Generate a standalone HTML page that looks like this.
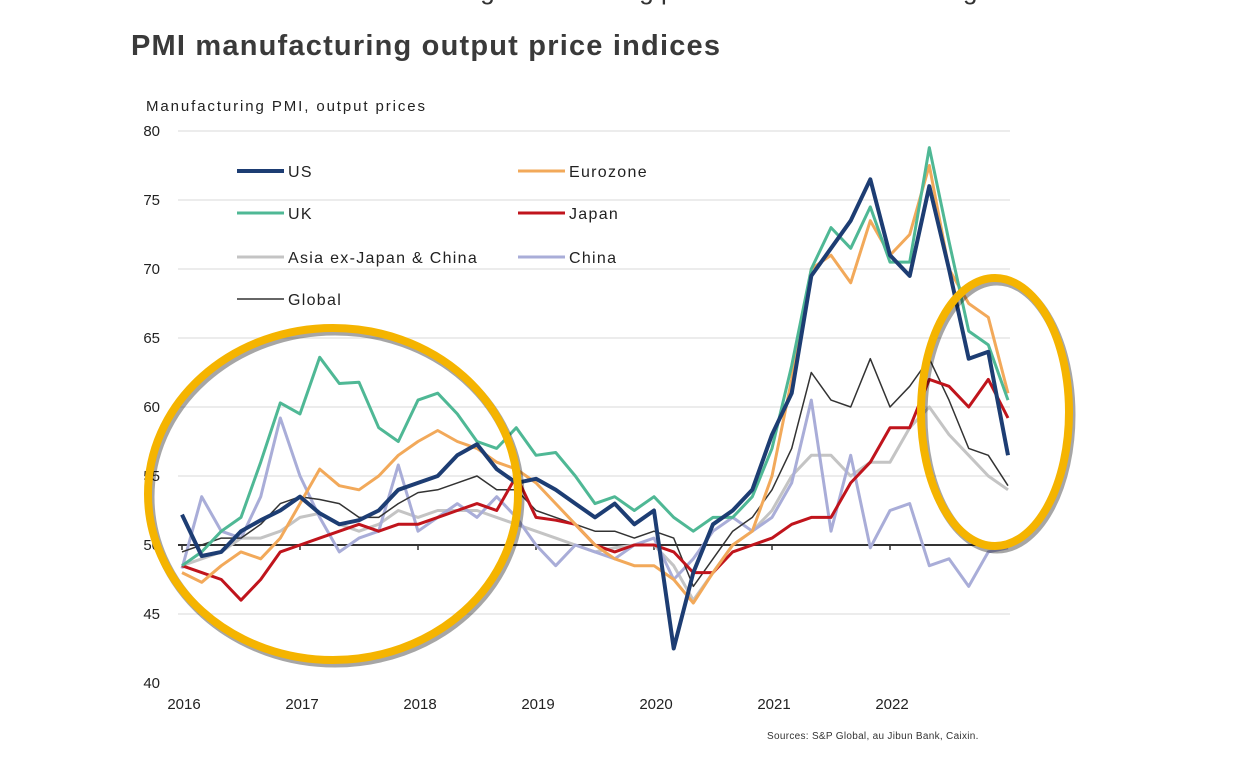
<!DOCTYPE html>
<html><head><meta charset="utf-8"><style>
body{margin:0;width:1234px;height:772px;background:#fff;overflow:hidden;font-family:"Liberation Sans",sans-serif;position:relative}
#top{position:absolute;left:330px;top:-25px;width:900px;overflow:hidden;font-size:26px;color:#333;white-space:nowrap}
#title{position:absolute;left:131px;top:30px;font-size:29px;font-weight:bold;color:#3a3a3a;letter-spacing:1.2px}
svg{position:absolute;left:0;top:0}
</style></head><body>
<div id="top">manufacturing sector selling price inflation is moderating across the world</div>
<div id="title">PMI manufacturing output price indices</div>
<svg id="c" width="1234" height="772"></svg>
<script>
const yTicks=[40,45,50,55,60,65,70,75,80];
const xTickLabels=['2016','2017','2018','2019','2020','2021','2022'];
const xTickYears=[2016,2017,2018,2019,2020,2021,2022];
const seriesNames=['Asia ex-Japan & China','China','Global','Japan','Eurozone','UK','US'];
const us=[52.2,49.2,49.5,51,51.8,52.5,53.5,52.3,51.5,51.8,52.5,54,54.5,55,56.5,57.3,55.5,54.5,54.8,54,53,52,53,51.5,52.5,42.5,48,51.5,52.5,54,58,61,69.5,71.5,73.5,76.5,71,69.5,76,70,63.5,64,56.5];
const eurozone=[48,47.3,48.5,49.5,49,50.5,53,55.5,54.3,54,55,56.5,57.5,58.3,57.5,57,56,55.5,54.5,53,51.5,50,49,48.5,48.5,47.5,45.8,48,50,51,55,62,70,71,69,73.5,71,72.5,77.5,70,67.5,66.5,61];
const uk=[48.5,49.5,51,52,56,60.3,59.5,63.6,61.7,61.8,58.5,57.5,60.5,61,59.5,57.5,57,58.5,56.5,56.7,55,53,53.5,52.5,53.5,52,51,52,52,53.5,57,63,70,73,71.5,74.5,70.5,70.5,78.8,72,65.5,64.5,60.5];
const japan=[48.5,48,47.5,46,47.5,49.5,50,50.5,51,51.5,51,51.5,51.5,52,52.5,53,52.5,55,52,51.8,51.5,50,49.5,50,50,49.5,48,48,49.5,50,50.5,51.5,52,52,54.5,56,58.5,58.5,62,61.5,60,62,59.2];
const asia=[48.5,49,49.5,50.5,50.5,51,52,52.3,51.5,51,51.5,52.5,52,52.5,52.5,52.5,52,51.5,51,50.5,50,49.5,49.8,50,50,48.5,46,48,50,51,52.5,55,56.5,56.5,55,56,56,58.5,60,58,56.5,55,54];
const china=[48.3,53.5,51,50.5,53.5,59.2,55,52,49.5,50.5,51,55.8,51,52,53,52,53.5,52,50,48.5,50,49.5,49,50,50.5,47.5,49,51,52,51,52,54.5,60.5,51,56.5,49.8,52.5,53,48.5,49,47,49.5,49.8];
const globalS=[49.5,50,50.5,50.5,51.5,53,53.5,53.3,53,52,52,53,53.8,54,54.5,55,54,54,52.5,52,51.5,51,51,50.5,51,50.5,47,49,51,52,54,57,62.5,60.5,60,63.5,60,61.5,63.5,60.5,57,56.5,54.3];
const x0=182,pxYear=118,yBase=683,pxUnit=13.8;
const X=t=>x0+(t-2016)*pxYear;
const Y=v=>yBase-(v-40)*pxUnit;
const T=i=>2016+i/6;
const svg=document.getElementById('c');const NS='http://www.w3.org/2000/svg';
function mk(tag,a){const e=document.createElementNS(NS,tag);for(const k in a)e.setAttribute(k,a[k]);svg.appendChild(e);return e;}
let t=mk('text',{x:146,y:111,'font-size':15,fill:'#222','letter-spacing':'1.9'});t.textContent='Manufacturing PMI, output prices';


yTicks.forEach(v=>{
 if(v!==50&&v!==40){const g=mk('line',{x1:178,x2:1010,y1:Y(v),y2:Y(v),stroke:'#e6e6e6','stroke-width':1.5});
 
 }
 const l=mk('text',{x:160,y:Y(v)+5,'font-size':15,fill:'#222','text-anchor':'end'});l.textContent=v;
 
 
});
const ax=mk('line',{x1:178,x2:1012,y1:Y(50),y2:Y(50),stroke:'#333','stroke-width':2});


xTickYears.forEach((yr,i)=>{
 const l=mk('text',{x:X(yr)+2,y:709,'font-size':15,fill:'#222','text-anchor':'middle'});l.textContent=xTickLabels[i];
 
 
 const tk=mk('line',{x1:X(yr),x2:X(yr),y1:Y(50),y2:Y(50)+5,stroke:'#333','stroke-width':1.5});
 
 
});
const defs=[[asia,'#c4c4c4',3,'asia-line'],[china,'#a9add8',3,'china-line'],[globalS,'#333',1.5,'global-line'],[japan,'#c0141c',3,'japan-line'],[eurozone,'#f2a95a',3,'eurozone-line'],[uk,'#4fb895',3,'uk-line'],[us,'#1d3d73',4,'us-line']];
defs.forEach(d=>{
 const p=mk('polyline',{points:d[0].map((v,i)=>X(T(i)).toFixed(1)+','+Y(v).toFixed(1)).join(' '),fill:'none',stroke:d[1],'stroke-width':d[2],'stroke-linejoin':'round'});
 
 
});
const leg=[['US','#1d3d73',237,171,4],['Eurozone','#f2a95a',518,171,3],['UK','#4fb895',237,213,3],['Japan','#c0141c',518,213,3],['Asia ex-Japan & China','#c4c4c4',237,257,3],['China','#a9add8',518,257,3],['Global','#333',237,299,1.5]];
leg.forEach(l=>{
 const ln=mk('line',{x1:l[2],x2:l[2]+47,y1:l[3],y2:l[3],stroke:l[1],'stroke-width':l[4]});
 
 
 const tx=mk('text',{x:l[2]+51,y:l[3]+6,'font-size':16,fill:'#222','letter-spacing':'1.3'});tx.textContent=l[0];
 
 
});
const s=mk('text',{x:767,y:739,'font-size':10,fill:'#333','letter-spacing':'0.3'});s.textContent='Sources: S&P Global, au Jibun Bank, Caixin.';


[[333,494,185,166,'left-highlight-circle'],[995,412,74,134,'right-highlight-circle']].forEach(c=>{
 const sh=mk('ellipse',{cx:c[0]+2,cy:c[1]+3,rx:c[2],ry:c[3],fill:'none',stroke:'rgba(0,0,0,0.35)','stroke-width':9});
 
 
 const e=mk('ellipse',{cx:c[0],cy:c[1],rx:c[2],ry:c[3],fill:'none',stroke:'#f5b400','stroke-width':8});
 
 
});
</script>
</body></html>
